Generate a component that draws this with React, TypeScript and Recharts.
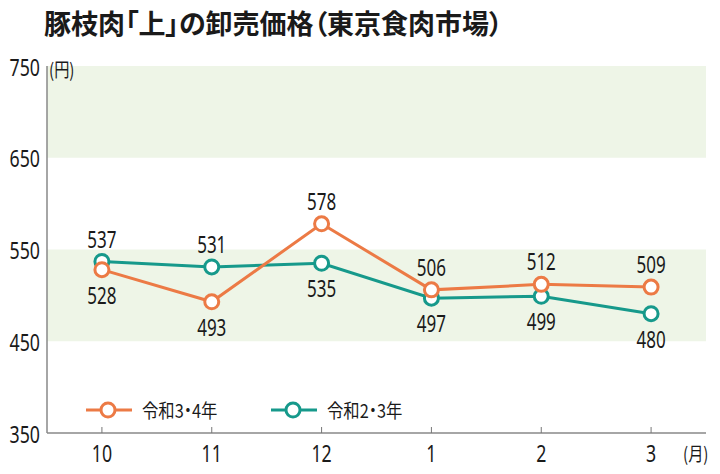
import React from "react";
import {
  LineChart,
  Line,
  XAxis,
  YAxis,
  ReferenceArea,
  LabelList,
} from "recharts";

const months = ["10", "11", "12", "1", "2", "3"];
const reiwa34 = [528, 493, 578, 506, 512, 509];
const reiwa23 = [537, 531, 535, 497, 499, 480];
const yTicks = [350, 450, 550, 650, 750];
const bands: [number, number][] = [
  [450, 550],
  [650, 750],
];

const ORANGE = "#ec7a45";
const TEAL = "#16998b";
const NUM_FONT = "'Noto Sans', sans-serif";
const JP_FONT = "'Noto Sans CJK JP', sans-serif";
const SQUEEZE = 0.74;

const data = months.map((m, i) => ({ month: m, a: reiwa34[i], b: reiwa23[i] }));

// narrow numerals, like the condensed face in the original
function NumText({
  x,
  y,
  anchor = "middle",
  size = 23,
  children,
}: {
  x: number;
  y: number;
  anchor?: "start" | "middle" | "end";
  size?: number;
  children: React.ReactNode;
}) {
  return (
    <text
      transform={`translate(${x},${y}) scale(${SQUEEZE},1)`}
      textAnchor={anchor}
      dominantBaseline="central"
      fontFamily={NUM_FONT}
      fontSize={size}
      fill="#1a1a1a"
    >
      {children}
    </text>
  );
}

// label goes above the point when this series is the higher one at that month
function makeLabel(own: number[], other: number[]) {
  return (props: any) => {
    const { x, y, index, value } = props;
    const above = own[index] >= other[index];
    return (
      <NumText x={x} y={above ? y - 23 : y + 25}>
        {value}
      </NumText>
    );
  };
}

function MonthTick(props: any) {
  const { x, y, payload } = props;
  return (
    <g>
      <line x1={x} x2={x} y1={y} y2={y - 6} stroke="#777" strokeWidth={1} />
      <NumText x={x} y={y + 19} size={24}>
        {payload.value}
      </NumText>
    </g>
  );
}

function PriceTick(props: any) {
  const { x, y, payload } = props;
  return (
    <NumText x={x - 7} y={y} anchor="end" size={24}>
      {payload.value}
    </NumText>
  );
}

function LegendItem({ color, label, left }: { color: string; label: string; left: number }) {
  return (
    <div
      style={{
        position: "absolute",
        left,
        top: 396,
        display: "flex",
        alignItems: "center",
      }}
    >
      <svg width={46} height={22}>
        <line x1={0} x2={46} y1={11} y2={11} stroke={color} strokeWidth={3} />
        <circle cx={22} cy={11} r={7} fill="#fff" stroke={color} strokeWidth={3} />
      </svg>
      <span
        style={{
          fontFamily: JP_FONT,
          fontSize: 19,
          color: "#1a1a1a",
          marginLeft: 10,
          display: "inline-block",
          transform: "scaleX(0.86)",
          transformOrigin: "left center",
          fontFeatureSettings: '"palt"',
          whiteSpace: "nowrap",
        }}
      >
        {label}
      </span>
    </div>
  );
}

export default function App() {
  return (
    <div
      style={{
        position: "absolute",
        left: 0,
        top: 0,
        width: 720,
        height: 474,
        background: "#fff",
      }}
    >
      <div
        style={{
          position: "absolute",
          left: 44,
          top: 3,
          fontFamily: JP_FONT,
          fontWeight: 700,
          fontSize: 27,
          color: "#1a1a1a",
          whiteSpace: "nowrap",
          fontFeatureSettings: '"palt"',
        }}
      >
        豚枝肉「上」の卸売価格（東京食肉市場）
      </div>
      <LineChart
        width={720}
        height={474}
        data={data}
        margin={{ top: 66, right: 14, left: 0, bottom: 0 }}
      >
        {bands.map(([y1, y2]) => (
          <ReferenceArea
            key={y1}
            y1={y1}
            y2={y2}
            fill="#eef5e7"
            fillOpacity={1}
            stroke="none"
            ifOverflow="visible"
          />
        ))}
        <XAxis
          dataKey="month"
          height={41}
          scale="band"
          axisLine={{ stroke: "#888", strokeWidth: 1.5 }}
          tickLine={false}
          tickSize={0}
          tickMargin={0}
          tick={<MonthTick />}
          interval={0}
        />
        <YAxis
          width={47}
          domain={[350, 750]}
          ticks={yTicks}
          axisLine={{ stroke: "#888", strokeWidth: 1.5 }}
          tickLine={false}
          tickSize={0}
          tickMargin={0}
          tick={<PriceTick />}
        />
        <Line
          dataKey="b"
          stroke={TEAL}
          strokeWidth={3}
          dot={{ r: 7, fill: "#fff", stroke: TEAL, strokeWidth: 3 }}
          isAnimationActive={false}
        >
          <LabelList dataKey="b" content={makeLabel(reiwa23, reiwa34)} />
        </Line>
        <Line
          dataKey="a"
          stroke={ORANGE}
          strokeWidth={3}
          dot={{ r: 7, fill: "#fff", stroke: ORANGE, strokeWidth: 3 }}
          isAnimationActive={false}
        >
          <LabelList dataKey="a" content={makeLabel(reiwa34, reiwa23)} />
        </Line>
      </LineChart>
      <LegendItem color={ORANGE} label="令和3・4年" left={86} />
      <LegendItem color={TEAL} label="令和2・3年" left={271} />
      <div
        style={{
          position: "absolute",
          left: 49,
          top: 55,
          fontFamily: JP_FONT,
          fontSize: 19,
          color: "#1a1a1a",
          transform: "scaleX(0.8)",
          transformOrigin: "left center",
        }}
      >
        (円)
      </div>
      <div
        style={{
          position: "absolute",
          left: 683,
          top: 439,
          fontFamily: JP_FONT,
          fontSize: 19,
          color: "#1a1a1a",
          transform: "scaleX(0.8)",
          transformOrigin: "left center",
        }}
      >
        (月)
      </div>
    </div>
  );
}
